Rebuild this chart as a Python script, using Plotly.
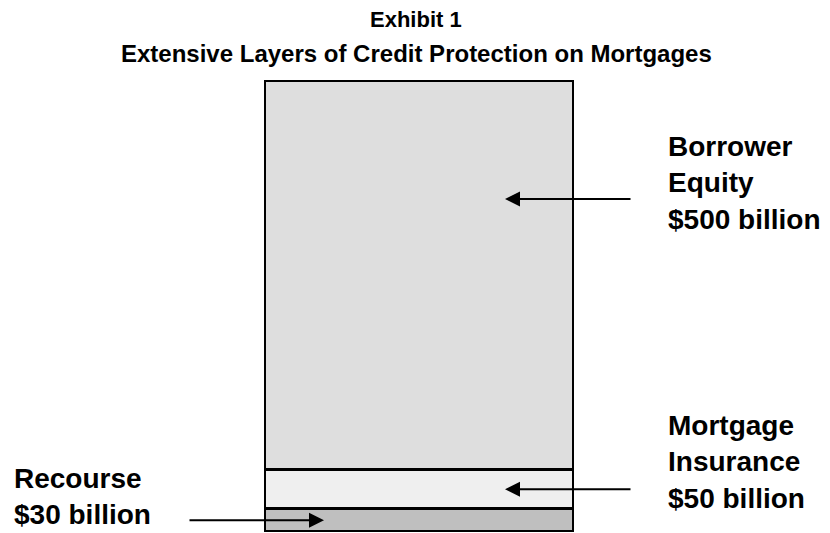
import plotly.graph_objects as go

# Data
layers = ["Recourse", "Mortgage Insurance", "Borrower Equity"]
values = [30, 50, 500]  # $ billion
label_lines = [["Recourse", "$30 billion"],
               ["Mortgage", "Insurance", "$50 billion"],
               ["Borrower", "Equity", "$500 billion"]]
colors = ["#bfbfbf", "#efefef", "#dedede"]
title_lines = ["Exhibit 1", "Extensive Layers of Credit Protection on Mortgages"]

W, H = 830, 533
FONT = "Arial, 'Liberation Sans', Helvetica, sans-serif"

fig = go.Figure()
for name, v, c in zip(layers, values, colors):
    fig.add_trace(go.Bar(
        x=[0], y=[v], name=name, width=1,
        marker=dict(color=c, line=dict(color="black", width=3.5)),
        hoverinfo="name+y", showlegend=False,
    ))

total = sum(values)
bar_left, bar_right, bar_top, bar_bottom = 264, 574, 80, 532

fig.update_layout(
    width=W, height=H, barmode="stack",
    margin=dict(l=0, r=0, t=0, b=0),
    paper_bgcolor="white", plot_bgcolor="white",
    xaxis=dict(domain=[bar_left / W, bar_right / W], range=[-0.5, 0.5],
               visible=False, fixedrange=True),
    yaxis=dict(domain=[(H - bar_bottom) / H, (H - bar_top) / H], range=[0, total],
               visible=False, fixedrange=True),
    font=dict(family=FONT, color="black"),
)

def px(x):
    return x / W

def py(y):
    return 1 - y / H

ann = []
# title
ann.append(dict(text="<b>" + title_lines[0] + "</b>", x=px(416), y=py(20), xref="paper", yref="paper",
                showarrow=False, font=dict(size=22), xanchor="center", yanchor="middle"))
ann.append(dict(text="<b>" + title_lines[1] + "</b>", x=px(416), y=py(53), xref="paper", yref="paper",
                showarrow=False, font=dict(size=24), xanchor="center", yanchor="middle"))

# labels
label_pos = [(12, 496), (666, 462), (666, 183)]  # (left x, center y) in px
for lines, (lx, ly) in zip(label_lines, label_pos):
    ann.append(dict(text="<b>" + "<br>".join(lines) + "</b>", x=px(lx), y=py(ly),
                    xref="paper", yref="paper", showarrow=False, align="left",
                    font=dict(size=28), xanchor="left", yanchor="middle"))

# arrows
cum = [0]
for v in values:
    cum.append(cum[-1] + v)
mid_rec = (cum[0] + cum[1]) / 2
mid_ins = (cum[1] + cum[2]) / 2
arrow_common = dict(text="", showarrow=True, arrowhead=2, arrowsize=1.5, arrowwidth=2,
                    arrowcolor="black", axref="pixel", ayref="pixel", ay=0, standoff=0)
ann.append(dict(x=px(324), y=mid_rec, xref="paper", yref="y", ax=-136, **arrow_common))
ann.append(dict(x=px(505), y=mid_ins, xref="paper", yref="y", ax=127, **arrow_common))
ann.append(dict(x=px(505), y=py(199), xref="paper", yref="paper", ax=127, **arrow_common))

fig.update_layout(annotations=ann)
fig.write_html("out.html", config={"displayModeBar": False},
               post_script="document.body.style.margin='0';")
